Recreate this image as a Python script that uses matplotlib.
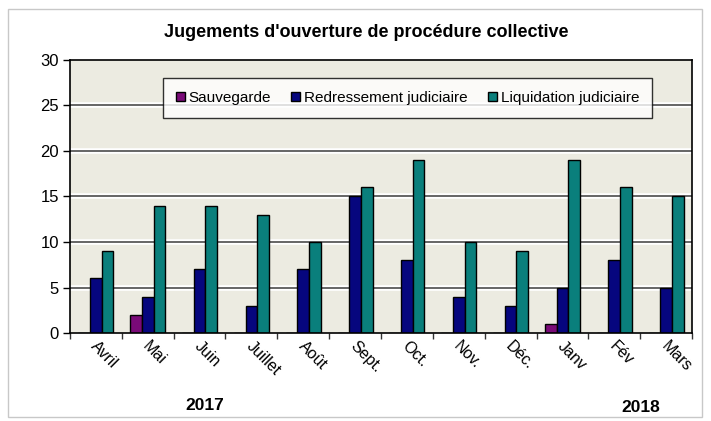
#Bar chart of collective procedure judgments per month

import numpy as np
import matplotlib.pyplot as plt
from matplotlib.patches import Rectangle

plt.rcParams['font.family'] = ['Liberation Sans', 'DejaVu Sans']

months = ['Avril', 'Mai', 'Juin', 'Juillet', 'Août', 'Sept.', 'Oct.',
          'Nov.', 'Déc.', 'Janv', 'Fév', 'Mars']
sauvegarde = [0, 2, 0, 0, 0, 0, 0, 0, 0, 1, 0, 0]
redressement = [6, 4, 7, 3, 7, 15, 8, 4, 3, 5, 8, 5]
liquidation = [9, 14, 14, 13, 10, 16, 19, 10, 9, 19, 16, 15]
series_names = ['Sauvegarde', 'Redressement judiciaire', 'Liquidation judiciaire']
series_colors = ['#7a0a78', '#06067e', '#0a7f7c']
years = ['2017', '2018']

fig = plt.figure(figsize=(7.11, 4.21), dpi=100)
ax = fig.add_axes([70/711, 1-333/421, 622/711, 273/421])

x = np.arange(len(months))
w = 0.225
#grid under the bars: white band with a dark line on top
ax.set_facecolor('#ecebe1')
ax.set_ylim(0, 30)
ax.set_yticks(range(0, 31, 5))
for yv in ax.get_yticks()[1:-1]:
	ax.axhline(yv, color='white', lw=4, zorder=0.5)
	ax.axhline(yv, color='#3c3c3c', lw=1.1, zorder=0.6)

data = [sauvegarde, redressement, liquidation]
for i, vals in enumerate(data):
	ax.bar(x + (i-1)*w, vals, width=w, color=series_colors[i],
	       edgecolor='black', linewidth=1.0, label=series_names[i], zorder=2)

ax.set_xlim(-0.5, len(months)-0.5)
ax.set_xticks(np.arange(-0.5, len(months), 1))
ax.set_xticklabels([])
ax.tick_params(axis='x', direction='out', length=4, width=1, color='#333333')
ax.tick_params(axis='y', direction='out', length=5, width=1, labelsize=12, pad=3)

for xi, m in zip(x, months):
	ax.text(xi - 0.05, -1.2, m, rotation=-45, rotation_mode='anchor',
	        ha='left', va='center', fontsize=11.5)

for s in ax.spines.values():
	s.set_color('black')
	s.set_linewidth(1.2)

fig.suptitle("Jugements d'ouverture de procédure collective", x=366/711, y=1-24/421,
             fontsize=13, fontweight='bold')

leg = ax.legend(loc='center', bbox_to_anchor=((407.5-70)/622, (333-98)/273),
                ncol=3, fontsize=11, frameon=True, fancybox=False,
                handlelength=0.6, handleheight=0.6, handletextpad=0.25,
                columnspacing=1.3, borderpad=0.85, borderaxespad=0)
leg.get_frame().set_edgecolor('black')
leg.get_frame().set_linewidth(1.0)
leg.set_zorder(5)

fig.text(205/711, 1-405/421, years[0], ha='center', va='center',
         fontsize=12.5, fontweight='bold')
fig.text(641/711, 1-408/421, years[1], ha='center', va='center',
         fontsize=12.5, fontweight='bold')

#light frame around the whole chart
fig.patches.append(Rectangle((8/711, 4/421), 694/711, 408/421, transform=fig.transFigure,
                             fill=False, edgecolor='#c8c8c8', linewidth=1))

plt.savefig('out.png', dpi=100)
